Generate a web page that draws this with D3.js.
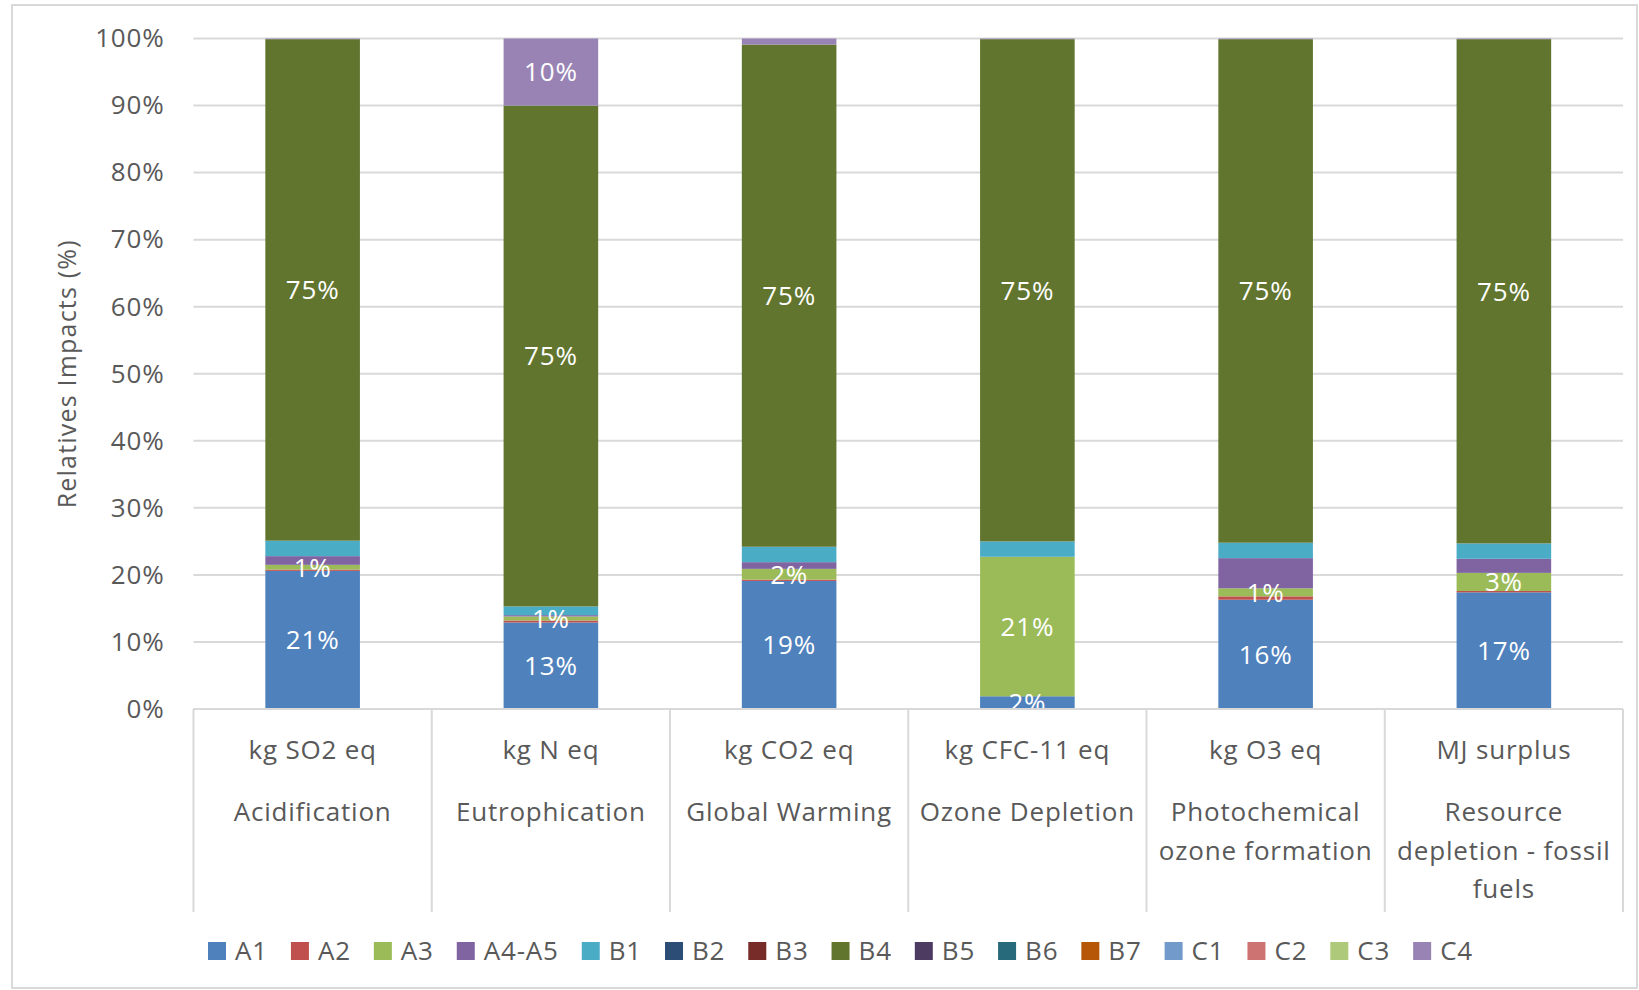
<!DOCTYPE html>
<html>
<head>
<meta charset="utf-8">
<script src="https://cdn.jsdelivr.net/npm/d3@7"></script>
<style>
  body { margin: 0; background: #fff; }
  svg text { font-family: "Open Sans", Lato, sans-serif; letter-spacing: 0.8px; }
</style>
</head>
<body>
<div class="viz"></div>
<script>
// categories (unit row + name lines)
const units = ["kg SO2 eq", "kg N eq", "kg CO2 eq", "kg CFC-11 eq", "kg O3 eq", "MJ surplus"]
const names = [
  ["Acidification"],
  ["Eutrophication"],
  ["Global Warming"],
  ["Ozone Depletion"],
  ["Photochemical", "ozone formation"],
  ["Resource", "depletion - fossil", "fuels"]
]

// series values, % of total per category
const A1   = [20.6, 12.9, 19.1, 1.9, 16.3, 17.4]
const A2   = [0.2, 0.3, 0.2, 0.0, 0.5, 0.2]
const A3   = [0.7, 0.6, 1.6, 20.8, 1.2, 2.7]
const A4A5 = [1.3, 0.2, 1.0, 0.0, 4.5, 2.1]
const B1   = [2.3, 1.3, 2.3, 2.3, 2.3, 2.3]
const B2   = [0, 0, 0, 0, 0, 0]
const B3   = [0, 0, 0, 0, 0, 0]
const B4   = [74.8, 74.7, 74.9, 74.9, 75.1, 75.2]
const B5   = [0, 0, 0, 0, 0, 0]
const B6   = [0, 0, 0, 0, 0, 0]
const B7   = [0, 0, 0, 0, 0, 0]
const C1   = [0, 0, 0, 0, 0, 0]
const C2   = [0, 0, 0, 0, 0, 0]
const C3   = [0, 0, 0, 0, 0, 0]
const C4   = [0.1, 10.0, 0.9, 0.1, 0.1, 0.1]

const seriesNames = ["A1","A2","A3","A4-A5","B1","B2","B3","B4","B5","B6","B7","C1","C2","C3","C4"]
const seriesValues = [A1, A2, A3, A4A5, B1, B2, B3, B4, B5, B6, B7, C1, C2, C3, C4]
const seriesColors = ["#4F81BD","#C0504D","#9BBB59","#8064A2","#4BACC6","#2C4D75","#772C2A",
                      "#61752F","#4D3B62","#276A7C","#B65708","#729ACA","#CD7371","#AFC97A","#9983B5"]

const yTicks = [0, 10, 20, 30, 40, 50, 60, 70, 80, 90, 100]
// which series carry data labels, and the smallest value that gets one
const labelMin = {"A1": 0, "A3": 0, "B4": 0, "C4": 5}

const W = 1639, H = 990
const margin = {top: 38.5, right: 16, bottom: 281, left: 193.5}
const txt = "#595959", grid = "#D9D9D9"
const fs = '26px'

const svg = d3.select('.viz').append('svg')
  .attr('width', W)
  .attr('height', H)

// chart border
svg.append('rect')
  .attr('x', 12).attr('y', 5)
  .attr('width', W - 14).attr('height', H - 7)
  .attr('fill', 'none').attr('stroke', grid).attr('stroke-width', 2)

const table = units.map((u, i) => {
  const row = {cat: u}
  seriesNames.forEach((s, j) => row[s] = seriesValues[j][i])
  return row
})

const x = d3.scaleBand()
  .domain(units)
  .range([margin.left, W - margin.right])
  .padding(0)

const barW = x.bandwidth() * 0.397

const y = d3.scaleLinear()
  .domain([0, 100])
  .range([H - margin.bottom, margin.top])

const color = d3.scaleOrdinal(seriesNames, seriesColors)

// grid
svg.append('g')
  .selectAll('line')
  .data(yTicks)
  .join('line')
  .attr('x1', margin.left).attr('x2', W - margin.right)
  .attr('y1', d => y(d)).attr('y2', d => y(d))
  .attr('stroke', grid).attr('stroke-width', 2)

// y axis labels
const yAxis = d3.axisLeft(y)
  .tickValues(yTicks)
  .tickFormat(d => d + '%')
  .tickSize(0)
  .tickPadding(29)

svg.append('g')
  .attr('transform', `translate(${margin.left},0)`)
  .call(yAxis)
  .call(g => g.select('.domain').remove())
  .call(g => g.selectAll('text')
    .attr('fill', txt)
    .style('font-size', fs))

svg.append('text')
  .attr('transform', `translate(67,${(y(0) + y(100)) / 2}) rotate(-90)`)
  .attr('text-anchor', 'middle')
  .attr('dy', '0.36em')
  .attr('fill', txt)
  .style('font-size', '25px')
  .style('letter-spacing', '1.2px')
  .text('Relatives Impacts (%)')

const stacked = d3.stack().keys(seriesNames)(table)

svg.append('g')
  .selectAll('g')
  .data(stacked)
  .join('g')
  .attr('fill', d => color(d.key))
  .selectAll('rect')
  .data(d => d)
  .join('rect')
  .attr('x', d => x(d.data.cat) + (x.bandwidth() - barW) / 2)
  .attr('width', barW)
  .attr('y', d => y(d[1]))
  .attr('height', d => y(d[0]) - y(d[1]))

// data labels
const fmt = v => Math.round(v) + '%'
const labels = []
stacked.forEach(s => {
  if (!(s.key in labelMin)) return
  s.forEach(d => {
    const v = d[1] - d[0]
    if (v > 0 && v >= labelMin[s.key]) labels.push({cat: d.data.cat, mid: (d[0] + d[1]) / 2, v})
  })
})

svg.append('g')
  .selectAll('text')
  .data(labels)
  .join('text')
  .attr('x', d => x(d.cat) + x.bandwidth() / 2)
  .attr('y', d => y(d.mid))
  .attr('dy', '0.36em')
  .attr('text-anchor', 'middle')
  .attr('fill', '#fff')
  .style('font-size', fs)
  .text(d => fmt(d.v))

// category axis: base line, separators, two label rows
const axisY = y(0)
const sepBottom = 912
svg.append('line')
  .attr('x1', margin.left).attr('x2', W - margin.right)
  .attr('y1', axisY).attr('y2', axisY)
  .attr('stroke', grid).attr('stroke-width', 2)

const bounds = units.map(u => x(u)).concat([x(units[units.length - 1]) + x.bandwidth()])
svg.append('g')
  .selectAll('line')
  .data(bounds)
  .join('line')
  .attr('x1', d => d).attr('x2', d => d)
  .attr('y1', axisY).attr('y2', sepBottom)
  .attr('stroke', grid).attr('stroke-width', 2)

const catG = svg.append('g')
  .selectAll('g')
  .data(units.map((u, i) => ({u, lines: names[i]})))
  .join('g')
  .attr('transform', d => `translate(${x(d.u) + x.bandwidth() / 2},0)`)

catG.append('text')
  .attr('y', 750).attr('dy', '0.36em')
  .attr('text-anchor', 'middle').attr('fill', txt)
  .style('font-size', fs)
  .text(d => d.u)

catG.selectAll('text.name')
  .data(d => d.lines)
  .join('text')
  .attr('class', 'name')
  .attr('y', (d, i) => 812 + i * 38.5).attr('dy', '0.36em')
  .attr('text-anchor', 'middle').attr('fill', txt)
  .style('font-size', fs)
  .text(d => d)

// legend
const legend = svg.append('g').attr('transform', 'translate(208,951)')
let lx = 0
seriesNames.forEach((s, i) => {
  const item = legend.append('g').attr('transform', `translate(${lx},0)`)
  item.append('rect')
    .attr('x', 0).attr('y', -9)
    .attr('width', 18).attr('height', 18)
    .attr('fill', seriesColors[i])
  const t = item.append('text')
    .attr('x', 27).attr('dy', '0.36em')
    .attr('fill', txt)
    .style('font-size', fs)
    .text(s)
  lx += 27 + t.node().getComputedTextLength() + 23
})
</script>
</body>
</html>
